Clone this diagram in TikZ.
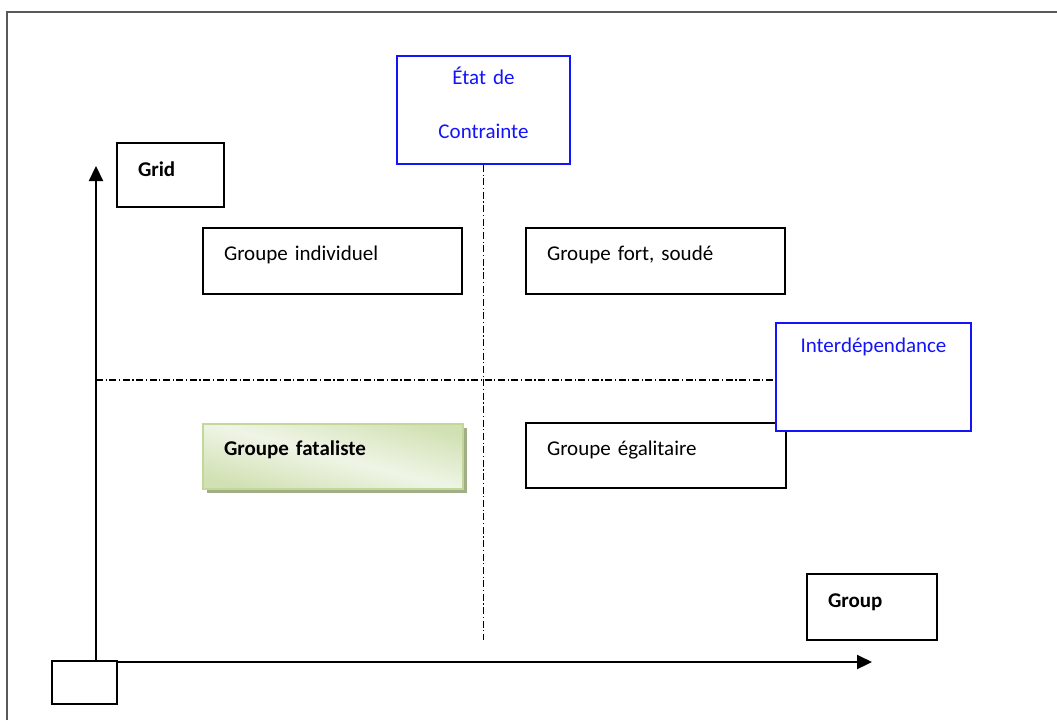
\documentclass[tikz,border=0pt]{standalone}
\usepackage{fontspec}
\setmainfont{Carlito}
\usetikzlibrary{arrows.meta,shadows}
\definecolor{bleu}{RGB}{20,20,250}
\definecolor{fatalborder}{HTML}{C3D69B}
\definecolor{fataldark}{HTML}{D2E1B4}
\definecolor{fatallight}{HTML}{EFF5E6}
\definecolor{fatalshadow}{HTML}{A0AF84}

\begin{document}
\begin{tikzpicture}[x=0.5pt,y=-0.5pt]
\tikzstyle{every node}+=[inner sep=0pt,font=\fontsize{10.5}{12.6}\selectfont]
\tikzstyle{box}=[draw=black,line width=0.8pt,fill=white,inner xsep=10.5pt,inner ysep=0pt,align=left]
\tikzstyle{bluebox}=[draw=bleu,line width=1pt,fill=white,text=bleu,inner sep=0pt,align=center]
\tikzstyle{axis}=[line width=1.1pt,-{Triangle[length=7.5pt,width=7pt]}]
\tikzstyle{dashdot}=[line width=0.8pt,dash pattern=on 3.5pt off 1.3pt on 0.6pt off 1.3pt]
\useasboundingbox (0,0) rectangle (1057,720);
\draw [black!65,line width=0.75pt] (7,720) -- (7,12) -- (1057,12);
\coordinate (O) at (96,662);
\coordinate (ytip) at (96,166);
\coordinate (xtip) at (872,662);
\coordinate (hstart) at (96,380);
\coordinate (vend) at (483,640);
\draw [axis] (O) -- (ytip);
\draw [axis] (O) -- (xtip);
\node [box] (corner) at (84.5,682.5) [minimum width=32.5pt,minimum height=21.5pt] {};
\node [box,text width=32.5pt,text height=16.5pt,text depth=15.5pt,font=\fontsize{10.5}{12.6}\selectfont\bfseries] (grid) at (170.5,175) {Grid};
\node [box,text width=44pt,text height=16.5pt,text depth=16.5pt,font=\fontsize{10.5}{12.6}\selectfont\bfseries] (group) at (872,607) {Group};
\node [bluebox,text width=86.5pt,text height=14pt,text depth=40pt] (etat) at (483.5,110) {État de\\[14.4pt]Contrainte};
\draw [dashdot] (etat.south) -- (etat.south |- vend);
\node [box,text width=108.5pt,text height=16pt,text depth=17pt] (indiv) at (332.5,261) {Groupe individuel};
\node [box,text width=108.5pt,text height=16pt,text depth=17pt] (fort) at (655.5,261) {Groupe fort, soudé};
\node [box,text width=109pt,text height=16pt,text depth=16.5pt,draw=fatalborder,line width=1pt,
  shading=axis,top color=fataldark,bottom color=fataldark,middle color=fatallight,shading angle=-15,
  drop shadow={shadow xshift=2pt,shadow yshift=-2pt,fill=fatalshadow,opacity=1},
  font=\fontsize{10.5}{12.6}\selectfont\bfseries] (fatal) at (333,456) {Groupe fataliste};
\node [box,text width=109pt,text height=16pt,text depth=16.5pt] (egal) at (656,455.5) {Groupe égalitaire};
\node [bluebox,text width=97.5pt,text height=14.5pt,text depth=39.5pt] (interd) at (873.5,377) {Interdépendance};
\draw [dashdot] (hstart) -- (hstart -| interd.west);
\end{tikzpicture}
\end{document}
